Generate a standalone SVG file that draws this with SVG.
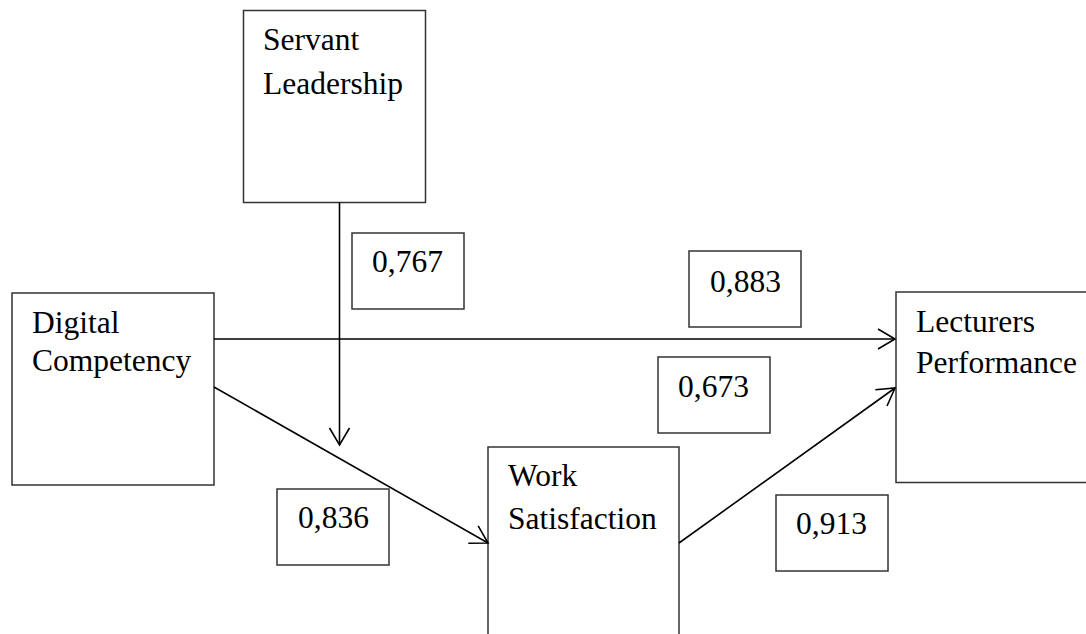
<svg xmlns="http://www.w3.org/2000/svg" width="1086" height="634" viewBox="0 0 1086 634">
<style>
.box{fill:#fff;stroke:#333;stroke-width:1.5}
.lbl{fill:#fff;stroke:#333;stroke-width:1.5}
.t{font-family:"Liberation Serif","Times New Roman",serif;font-size:31.5px;fill:#000}
.c{fill:none;stroke:#000;stroke-width:1.6}
</style>
<defs>
<marker id="ah" viewBox="-20 -12 22 24" markerWidth="22" markerHeight="24" refX="0" refY="0" orient="auto" markerUnits="userSpaceOnUse">
<path d="M-17,-10 L0,0 L-17,10" fill="none" stroke="#000" stroke-width="1.6"/>
</marker>
</defs>
<rect width="1086" height="634" fill="#fff"/>
<g id="servant-leadership">
<rect class="box" x="243.5" y="10.5" width="182" height="192"/>
<text class="t" x="263" y="50">Servant</text>
<text class="t" x="263" y="94">Leadership</text>
</g>
<g id="digital-competency">
<rect class="box" x="12" y="293" width="202" height="192"/>
<text class="t" x="32" y="333">Digital</text>
<text class="t" x="32" y="371">Competency</text>
</g>
<g id="lecturers-performance">
<rect class="box" x="896" y="292" width="200" height="190.5"/>
<text class="t" x="916" y="332">Lecturers</text>
<text class="t" x="916" y="373">Performance</text>
</g>
<g id="work-satisfaction">
<rect class="box" x="488" y="447" width="191" height="200"/>
<text class="t" x="508" y="486">Work</text>
<text class="t" x="508" y="529">Satisfaction</text>
</g>
<g id="connectors">
<line class="c" x1="339.5" y1="202.5" x2="339.5" y2="445" marker-end="url(#ah)"/>
<line class="c" x1="214" y1="339" x2="895" y2="339" marker-end="url(#ah)"/>
<line class="c" x1="214" y1="387" x2="488" y2="543" marker-end="url(#ah)"/>
<line class="c" x1="679" y1="543" x2="895" y2="388" marker-end="url(#ah)"/>
</g>
<g id="label-0767">
<rect class="lbl" x="352" y="233" width="112" height="76"/>
<text class="t" x="372" y="272">0,767</text>
</g>
<g id="label-0883">
<rect class="lbl" x="689" y="251" width="112" height="76"/>
<text class="t" x="710" y="292">0,883</text>
</g>
<g id="label-0673">
<rect class="lbl" x="658" y="357" width="112" height="76"/>
<text class="t" x="678" y="397">0,673</text>
</g>
<g id="label-0836">
<rect class="lbl" x="277" y="489" width="112" height="76"/>
<text class="t" x="298" y="528">0,836</text>
</g>
<g id="label-0913">
<rect class="lbl" x="776" y="495" width="112" height="76"/>
<text class="t" x="796" y="534">0,913</text>
</g>
</svg>
